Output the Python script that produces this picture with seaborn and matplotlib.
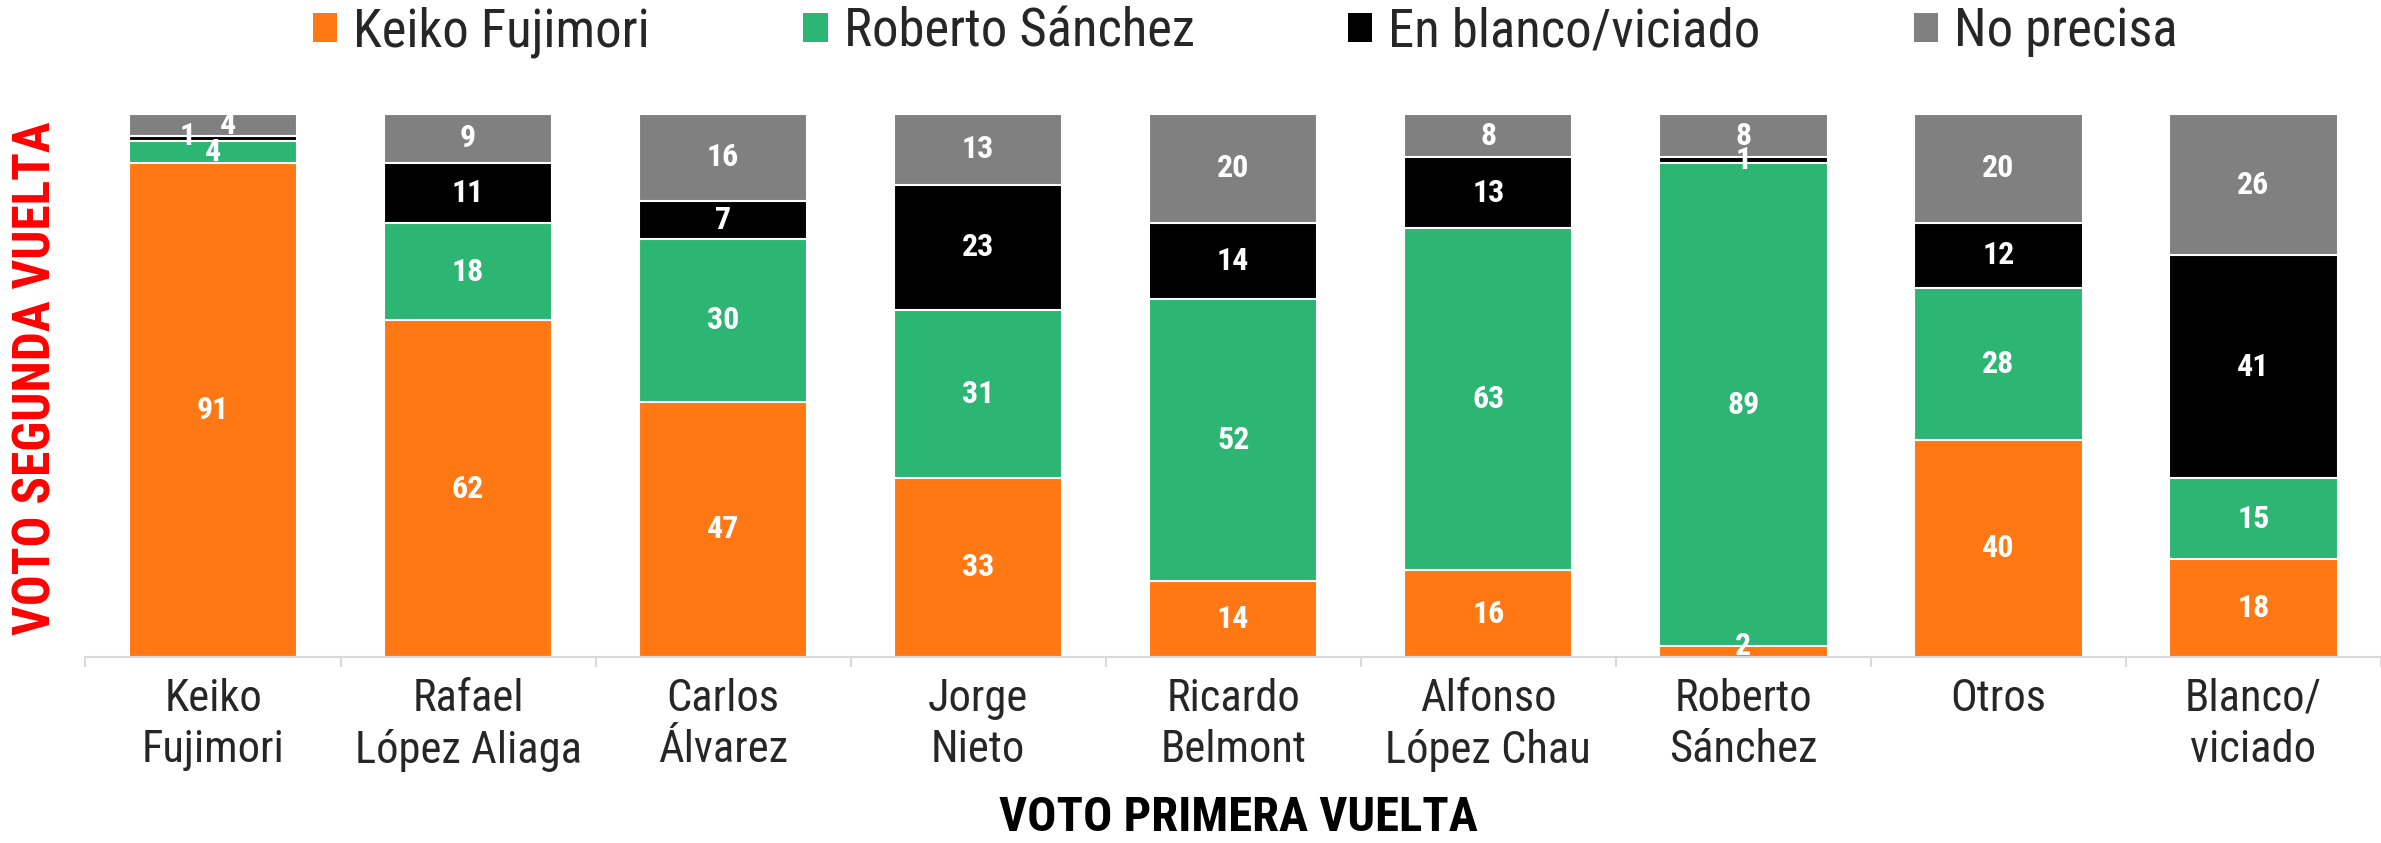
import numpy as np
import pandas as pd
import matplotlib
matplotlib.use('Agg')
import matplotlib.pyplot as plt
import seaborn as sns
from matplotlib.patches import Patch
from matplotlib import font_manager

# Datos (porcentajes)
categorias = ['Keiko\nFujimori', 'Rafael\nLópez Aliaga', 'Carlos\nÁlvarez', 'Jorge\nNieto',
              'Ricardo\nBelmont', 'Alfonso\nLópez Chau', 'Roberto\nSánchez', 'Otros', 'Blanco/\nviciado']
keiko = [91, 62, 47, 33, 14, 16, 2, 40, 18]
sanchez = [4, 18, 30, 31, 52, 63, 89, 28, 15]
blanco = [1, 11, 7, 23, 14, 13, 1, 12, 41]
no_precisa = [4, 9, 16, 13, 20, 8, 8, 20, 26]
series = ['Keiko Fujimori', 'Roberto Sánchez', 'En blanco/viciado', 'No precisa']

colores = ['#FF7814', '#2DB573', '#000000', '#808080']

sns.set_style('white')
disponibles = {f.name for f in font_manager.fontManager.ttflist}
fuente = [f for f in ['Roboto Condensed', 'Liberation Sans Narrow', 'Roboto'] if f in disponibles][:1]
plt.rcParams['font.family'] = fuente + ['DejaVu Sans']

fig = plt.figure(figsize=(23.81, 8.43), dpi=100)
ax = fig.add_axes([0.0359, 0.2206, 0.9641, 0.6441])

valores = np.array([keiko, sanchez, blanco, no_precisa])
acum = valores.cumsum(axis=0)

# barras apiladas: se dibuja del total hacia abajo
for i in range(3, -1, -1):
    sns.barplot(x=categorias, y=acum[i], color=colores[i], width=0.66,
                edgecolor='white', linewidth=1.5, saturation=1, ax=ax)

# ajustes de etiquetas pequenas (serie, barra) -> (dx, dy)
desplaz = {(2, 0): (-0.1, 0.4), (3, 0): (0.06, 0), (0, 6): (0, 1)}

for i in range(4):
    for j in range(len(categorias)):
        centro = acum[i][j] - valores[i][j] / 2
        dx, dy = desplaz.get((i, j), (0, 0))
        ax.text(j + dx, centro + dy, str(valores[i][j]), ha='center', va='center',
                color='white', fontsize=23, fontweight='bold')

ax.set_ylim(0, 100)
ax.set_xlim(-0.5, 8.432)
ax.set_yticks([])
ax.set_ylabel('')
for s in ['top', 'right', 'left']:
    ax.spines[s].set_visible(False)
ax.spines['bottom'].set_color('#d9d9d9')
ax.spines['bottom'].set_linewidth(1.5)
ax.set_xticks(range(len(categorias)))
ax.set_xticklabels(categorias, fontsize=32, linespacing=1.28)
ax.set_xticks(np.arange(-0.5, 9, 1), minor=True)
ax.tick_params(axis='x', which='major', bottom=True, length=0, pad=15)
ax.tick_params(axis='x', which='minor', bottom=True, length=7.5, width=1.5, color='#d9d9d9')

fig.text(0.0155, 0.5516, 'VOTO SEGUNDA VUELTA', rotation=90, ha='center', va='center',
         color='#FF0000', fontsize=37, fontweight='bold')
fig.text(0.52, 0.014, 'VOTO PRIMERA VUELTA', ha='center', va='baseline',
         color='black', fontsize=35, fontweight='bold')

handles = [Patch(facecolor=c, edgecolor='none') for c in colores]
fig.legend(handles, series, loc='center', bbox_to_anchor=(0.523, 0.962), ncol=4,
           frameon=False, fontsize=38, handlelength=0.47, handleheight=0.47,
           handletextpad=0.3, columnspacing=2.9)

fig.savefig('out.png', dpi=100)
